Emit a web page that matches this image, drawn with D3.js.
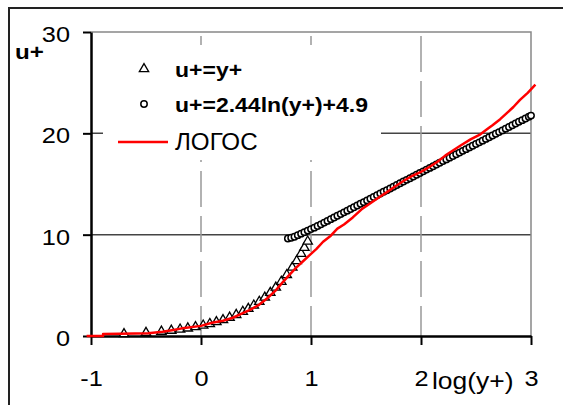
<!DOCTYPE html>
<html lang="ru">
<head>
<meta charset="UTF-8">
<title>u+ vs log(y+)</title>
<script src="https://d3js.org/d3.v7.min.js"></script>
<style>
  body { margin: 0; background: #fff; }
  svg { display: block; font-family: Arial, "Liberation Sans", sans-serif; }
</style>
</head>
<body>
<div id="chart"></div>
<script>
// x tick values (log(y+)) and y tick values (u+)
const xTicks = [-1, 0, 1, 2, 3];
const yTicks = [0, 10, 20, 30];

// series 1: u+=y+ (triangles)
const triLog = [-0.70, -0.50, -0.36, -0.27, -0.19, -0.12, -0.05, 0.02, 0.08, 0.14,
  0.20, 0.26, 0.32, 0.38, 0.43, 0.48, 0.53, 0.58, 0.63, 0.68, 0.73, 0.78, 0.83,
  0.87, 0.91, 0.94, 0.97];
const triU = [0.20, 0.32, 0.44, 0.54, 0.65, 0.76, 0.89, 1.05, 1.20, 1.38,
  1.58, 1.82, 2.09, 2.40, 2.69, 3.02, 3.39, 3.80, 4.27, 4.79, 5.37, 6.03, 6.76,
  7.41, 8.13, 8.71, 9.33];

// series 2: u+=2.44ln(y+)+4.9 (circles)
const circLog = [0.79, 0.82, 0.85, 0.88, 0.91, 0.94, 0.97, 1.00, 1.03, 1.06,
  1.09, 1.12, 1.15, 1.18, 1.21, 1.24, 1.27, 1.30, 1.33, 1.36,
  1.39, 1.42, 1.45, 1.48, 1.51, 1.54, 1.57, 1.60, 1.63, 1.66,
  1.69, 1.72, 1.75, 1.78, 1.81, 1.84, 1.87, 1.90, 1.93, 1.96,
  1.99, 2.02, 2.05, 2.08, 2.11, 2.14, 2.17, 2.20, 2.23, 2.26,
  2.29, 2.32, 2.35, 2.38, 2.41, 2.44, 2.47, 2.50, 2.53, 2.56,
  2.59, 2.62, 2.65, 2.68, 2.71, 2.74, 2.77, 2.80, 2.83, 2.86,
  2.89, 2.92, 2.95, 2.98, 3.00];
const circU = [9.62, 9.70, 9.80, 9.95, 10.10, 10.25, 10.40, 10.55, 10.69, 10.86,
  11.02, 11.19, 11.36, 11.53, 11.70, 11.87, 12.03, 12.20, 12.37, 12.54,
  12.71, 12.88, 13.05, 13.21, 13.38, 13.55, 13.72, 13.89, 14.06, 14.23,
  14.39, 14.56, 14.73, 14.90, 15.07, 15.24, 15.41, 15.57, 15.74, 15.91,
  16.08, 16.25, 16.42, 16.59, 16.75, 16.92, 17.09, 17.26, 17.43, 17.60,
  17.77, 17.93, 18.10, 18.27, 18.44, 18.61, 18.78, 18.95, 19.11, 19.28,
  19.45, 19.62, 19.79, 19.96, 20.12, 20.29, 20.46, 20.63, 20.80, 20.97,
  21.14, 21.30, 21.47, 21.64, 21.75];

// series 3: ЛОГОС (red line)
const logosLog = [-1.04, -0.89, -0.89, -0.60, -0.48, -0.35, -0.25, -0.15, 0.00, 0.10,
  0.20, 0.29, 0.37, 0.45, 0.53, 0.60, 0.68, 0.75, 0.81, 0.87,
  0.93, 0.99, 1.05, 1.11, 1.18, 1.24, 1.30, 1.38, 1.46, 1.54,
  1.62, 1.69, 1.77, 1.84, 1.92, 2.00, 2.08, 2.15, 2.22, 2.29,
  2.36, 2.45, 2.54, 2.60, 2.65, 2.72, 2.78, 2.84, 2.90, 2.97, 3.04];
const logosU = [0.00, 0.00, 0.20, 0.25, 0.28, 0.42, 0.60, 0.80, 1.00, 1.30,
  1.50, 1.80, 2.20, 2.60, 3.10, 3.70, 4.50, 5.40, 6.10, 6.80,
  7.40, 8.00, 8.60, 9.30, 9.90, 10.60, 11.00, 11.70, 12.50, 13.10,
  13.70, 14.20, 14.80, 15.30, 15.80, 16.20, 16.70, 17.20, 17.80, 18.30,
  18.80, 19.40, 19.90, 20.40, 20.80, 21.40, 22.00, 22.60, 23.30, 24.00, 24.80];

const legendLabels = ["u+=y+", "u+=2.44ln(y+)+4.9", "ЛОГОС"];

const W = 563, H = 405;
const sx = 1.15; // text in the picture is a bit wider than plain Arial

const svg = d3.select("#chart").append("svg")
  .attr("width", W).attr("height", H);

// outer chart frame (runs off the right and bottom edges)
svg.append("rect")
  .attr("x", 9).attr("y", 8).attr("width", 620).attr("height", 460)
  .attr("fill", "#fff").attr("stroke", "#222").attr("stroke-width", 2);

const x = d3.scaleLinear().domain([-1, 3]).range([91, 531]);
const y = d3.scaleLinear().domain([0, 30]).range([336, 32]);

// gridlines
const grid = svg.append("g");
grid.selectAll(".hg")
  .data([10, 20])
  .enter().append("line")
  .attr("x1", x(-1)).attr("x2", x(3))
  .attr("y1", d => y(d)).attr("y2", d => y(d))
  .attr("stroke", "#444").attr("stroke-width", 1.5);
grid.selectAll(".vg")
  .data([0, 1, 2])
  .enter().append("line")
  .attr("x1", d => x(d)).attr("x2", d => x(d))
  .attr("y1", y(30)).attr("y2", y(0))
  .attr("stroke", "#999").attr("stroke-width", 1.5)
  .attr("stroke-dasharray", "36,9")
  .attr("stroke-dashoffset", -4);
// plot border top and right
grid.append("path")
  .attr("d", `M${x(-1)},${y(30)}H${x(3)}V${y(0)}`)
  .attr("fill", "none").attr("stroke", "#888").attr("stroke-width", 1.5);

// legend box covers the grid
const legend = svg.append("g");
legend.append("rect")
  .attr("x", 103).attr("y", 45).attr("width", 278).attr("height", 115)
  .attr("fill", "#fff");

// axes
const yAxis = svg.append("g")
  .attr("transform", `translate(${x(-1)},0)`)
  .call(d3.axisLeft(y).tickValues(yTicks).tickSize(8).tickSizeOuter(0)
    .tickFormat(d => String(d)));
const xAxis = svg.append("g")
  .attr("transform", `translate(0,${y(0)})`)
  .call(d3.axisBottom(x).tickValues(xTicks).tickSize(9).tickSizeOuter(0)
    .tickFormat(d => String(d)));

[yAxis, xAxis].forEach(a => {
  a.select(".domain").attr("stroke", "#000").attr("stroke-width", 2.5);
  a.selectAll(".tick line").attr("stroke", "#000").attr("stroke-width", 2);
  a.selectAll(".tick text")
    .attr("fill", "#000")
    .style("font-size", "22px")
    .style("font-family", "Arial, 'Liberation Sans', sans-serif");
});
yAxis.selectAll(".tick text")
  .attr("x", null).attr("dy", null)
  .attr("transform", `translate(-21,9.5) scale(${sx},1)`);
xAxis.selectAll(".tick text")
  .attr("y", null).attr("dy", null)
  .attr("transform", `translate(0,49.5) scale(${sx},1)`);

// axis titles
svg.append("text")
  .attr("transform", `translate(15,59) scale(${sx},1)`)
  .style("font-size", "21px").style("font-weight", "bold")
  .attr("fill", "#000").text("u+");
svg.append("text")
  .attr("transform", `translate(432,389) scale(${sx},1)`)
  .style("font-size", "23px")
  .attr("fill", "#000").text("log(y+)");

// data marks
const tri = d3.symbol().type(d3.symbolTriangle).size(38);
svg.append("g").selectAll("path")
  .data(triLog.map((v, i) => [v, triU[i]]))
  .enter().append("path")
  .attr("transform", d => `translate(${x(d[0])},${y(d[1])})`)
  .attr("d", tri)
  .attr("fill", "#fff").attr("stroke", "#000").attr("stroke-width", 1.3);

svg.append("g").selectAll("circle")
  .data(circLog.map((v, i) => [v, circU[i]]))
  .enter().append("circle")
  .attr("cx", d => x(d[0])).attr("cy", d => y(d[1]))
  .attr("r", 3.2)
  .attr("fill", "#fff").attr("stroke", "#000").attr("stroke-width", 1.5);

const line = d3.line().x(d => x(d[0])).y(d => y(d[1]));
svg.append("path")
  .datum(logosLog.map((v, i) => [v, logosU[i]]))
  .attr("d", line)
  .attr("fill", "none").attr("stroke", "#ff0000").attr("stroke-width", 2.5)
  .attr("stroke-linejoin", "round");

// legend entries
legend.append("path")
  .attr("transform", "translate(144,69)")
  .attr("d", tri)
  .attr("fill", "#fff").attr("stroke", "#000").attr("stroke-width", 1.3);
legend.append("circle")
  .attr("cx", 144).attr("cy", 104).attr("r", 3.2)
  .attr("fill", "#fff").attr("stroke", "#000").attr("stroke-width", 1.5);
legend.append("line")
  .attr("x1", 118).attr("x2", 168).attr("y1", 142).attr("y2", 142)
  .attr("stroke", "#ff0000").attr("stroke-width", 2.5);

legend.append("text")
  .attr("transform", `translate(175,77) scale(${sx},1)`)
  .style("font-size", "20px").style("font-weight", "bold")
  .attr("fill", "#000").text(legendLabels[0]);
legend.append("text")
  .attr("transform", `translate(175,112) scale(${sx},1)`)
  .style("font-size", "20px").style("font-weight", "bold")
  .attr("fill", "#000").text(legendLabels[1]);
legend.append("text")
  .attr("transform", "translate(175,150) scale(1.05,1)")
  .style("font-size", "23px")
  .attr("fill", "#000").text(legendLabels[2]);
</script>
</body>
</html>
